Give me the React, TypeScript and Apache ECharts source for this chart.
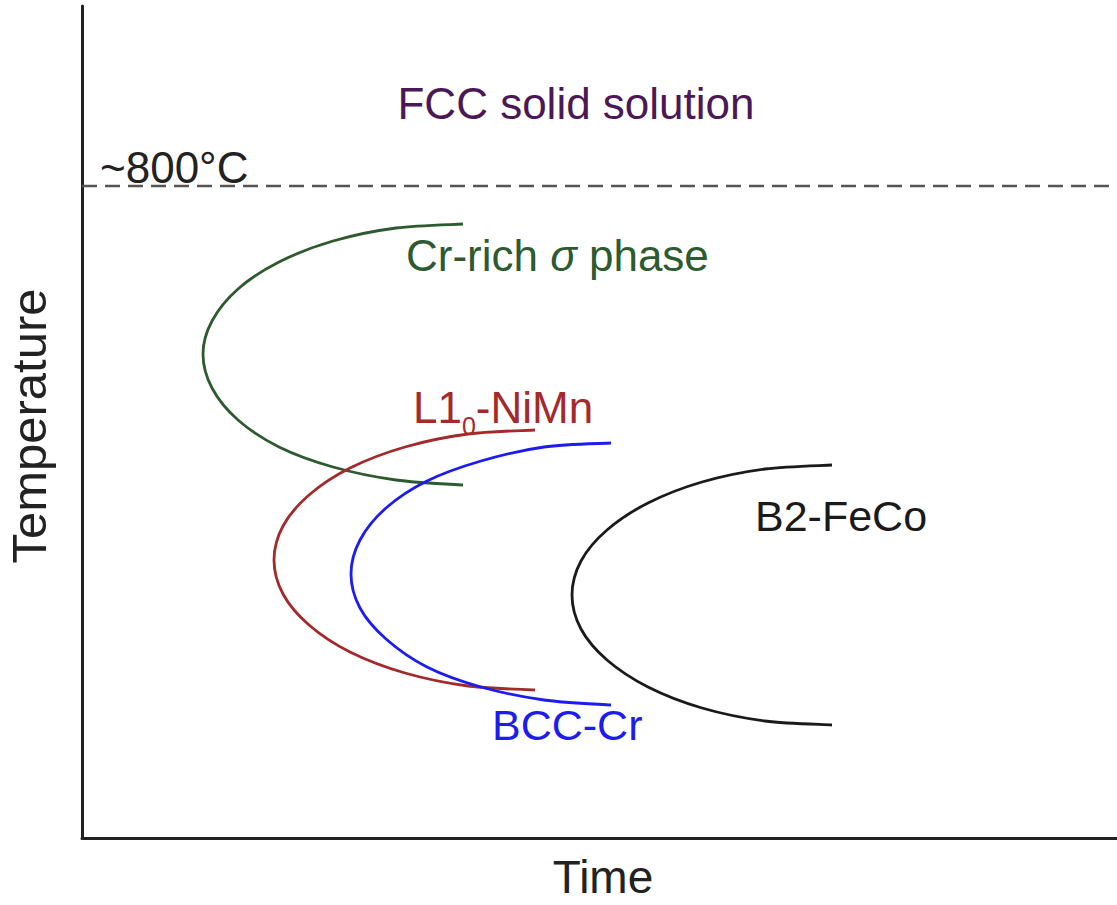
import React, { useEffect, useRef } from "react";
import * as echarts from "echarts";

// Schematic TTT diagram: time (x) vs temperature (y), arbitrary units.
const TIME_MAX = 103.5;
const TEMP_MAX = 83.2;
const SOLVUS_TEMP = 65.2; // ~800 °C dashed line

// C-curves, points read along each nose from top end to bottom end: [time, temperature]
const sigmaCurve: number[][] = [
  [38.1, 61.4], [31.4, 61.0], [25.1, 59.7], [19.7, 57.6], [15.6, 54.9], [13.0, 51.7],
  [12.1, 48.4], [13.0, 45.0], [15.6, 41.8], [19.7, 39.1], [25.1, 37.1], [31.4, 35.8], [38.1, 35.3],
];
const niMnCurve: number[][] = [
  [45.3, 40.8], [38.6, 40.4], [32.3, 39.1], [26.8, 37.0], [22.7, 34.3], [20.1, 31.2],
  [19.2, 27.8], [20.1, 24.4], [22.7, 21.3], [26.8, 18.6], [32.3, 16.5], [38.6, 15.2], [45.3, 14.8],
];
const bccCrCurve: number[][] = [
  [52.9, 39.5], [46.2, 39.1], [39.9, 37.7], [34.5, 35.7], [30.4, 33.0], [27.8, 29.8],
  [26.9, 26.4], [27.8, 23.0], [30.4, 19.9], [34.5, 17.1], [39.9, 15.1], [46.2, 13.8], [52.9, 13.3],
];
const feCoCurve: number[][] = [
  [75.0, 37.3], [68.3, 36.9], [62.0, 35.6], [56.6, 33.5], [52.5, 30.8], [49.9, 27.7],
  [49.0, 24.3], [49.9, 20.9], [52.5, 17.8], [56.6, 15.1], [62.0, 13.0], [68.3, 11.7], [75.0, 11.3],
];

const FONT = "'Liberation Sans', Arial, Helvetica, sans-serif";

const COLORS = {
  sigma: "#2d5a2f",
  niMn: "#a3292b",
  bcc: "#1c1cf2",
  feCo: "#1a1a1a",
  fcc: "#4a1856",
  axis: "#222222",
  dash: "#555555",
};

// Catmull-Rom spline through the projected points, written as cubic Bézier path data.
function splinePath(pts: number[][]): string {
  const n = pts.length;
  let d = `M${pts[0][0]},${pts[0][1]}`;
  for (let i = 0; i < n - 1; i++) {
    const p0 = pts[Math.max(i - 1, 0)];
    const p1 = pts[i];
    const p2 = pts[i + 1];
    const p3 = pts[Math.min(i + 2, n - 1)];
    const c1x = p1[0] + (p2[0] - p0[0]) / 6;
    const c1y = p1[1] + (p2[1] - p0[1]) / 6;
    const c2x = p2[0] - (p3[0] - p1[0]) / 6;
    const c2y = p2[1] - (p3[1] - p1[1]) / 6;
    d += ` C${c1x},${c1y} ${c2x},${c2y} ${p2[0]},${p2[1]}`;
  }
  return d;
}

function curveSeries(name: string, data: number[][], color: string) {
  return {
    name,
    type: "custom",
    coordinateSystem: "cartesian2d",
    data,
    silent: true,
    z: 3,
    clip: false,
    renderItem: (params: any, api: any) => {
      if (params.dataIndex !== 0) return null;
      const pts = data.map((p) => api.coord(p));
      return {
        type: "path",
        shape: { pathData: splinePath(pts) },
        style: { fill: "none", stroke: color, lineWidth: 2.8 },
      };
    },
  };
}

function label(text: string, x: number, y: number, fill: string, size = 44, align = "left", extra: any = {}) {
  return {
    type: "text",
    x,
    y,
    z: 10,
    ...extra,
    style: {
      text,
      fill,
      fontSize: size,
      fontFamily: FONT,
      align,
      verticalAlign: "middle",
      textAlign: align,
      textVerticalAlign: "middle",
    },
  };
}

export default function App() {
  const ref = useRef<HTMLDivElement>(null);

  useEffect(() => {
    if (!ref.current) return;
    const chart = echarts.init(ref.current, null, { renderer: "svg" });

    chart.setOption({
      animation: false,
      backgroundColor: "#ffffff",
      grid: { left: 82, top: 6, right: 0, bottom: 67, containLabel: false },
      xAxis: {
        type: "value",
        min: 0,
        max: TIME_MAX,
        axisLine: { show: true, lineStyle: { color: COLORS.axis, width: 3 } },
        axisTick: { show: false },
        axisLabel: { show: false },
        splitLine: { show: false },
      },
      yAxis: {
        type: "value",
        min: 0,
        max: TEMP_MAX,
        axisLine: { show: true, lineStyle: { color: COLORS.axis, width: 3 } },
        axisTick: { show: false },
        axisLabel: { show: false },
        splitLine: { show: false },
      },
      series: [
        {
          name: "~800°C",
          type: "line",
          data: [[0, SOLVUS_TEMP], [TIME_MAX, SOLVUS_TEMP]],
          symbol: "none",
          silent: true,
          lineStyle: { color: COLORS.dash, width: 2.5, type: [15, 8] },
          z: 2,
        },
        curveSeries("Cr-rich σ phase", sigmaCurve, COLORS.sigma),
        curveSeries("L10-NiMn", niMnCurve, COLORS.niMn),
        curveSeries("BCC-Cr", bccCrCurve, COLORS.bcc),
        curveSeries("B2-FeCo", feCoCurve, COLORS.feCo),
      ],
      graphic: [
        label("FCC solid solution", 576, 103, COLORS.fcc, 44, "center"),
        label("~800°C", 100, 167, "#222222", 44, "left"),
        {
          type: "text",
          x: 406,
          y: 255,
          z: 10,
          style: {
            text: "{n|Cr-rich }{i|σ}{n| phase}",
            align: "left",
            verticalAlign: "middle",
            textAlign: "left",
            textVerticalAlign: "middle",
            rich: {
              n: { fontSize: 44, fontFamily: FONT, fill: COLORS.sigma },
              i: { fontSize: 44, fontFamily: FONT, fontStyle: "italic", fill: COLORS.sigma },
            },
          },
        },
        {
          type: "text",
          x: 413,
          y: 407,
          z: 10,
          style: {
            text: "{n|L1}{s|0}{n|-NiMn}",
            align: "left",
            verticalAlign: "middle",
            textAlign: "left",
            textVerticalAlign: "middle",
            rich: {
              n: { fontSize: 44, fontFamily: FONT, fill: COLORS.niMn, lineHeight: 50 },
              s: {
                fontSize: 25,
                fontFamily: FONT,
                fill: COLORS.niMn,
                lineHeight: 12,
                height: 12,
                verticalAlign: "bottom",
              },
            },
          },
        },
        label("BCC-Cr", 492, 725, COLORS.bcc, 43, "left"),
        label("B2-FeCo", 755, 516, COLORS.feCo, 43, "left"),
        label("Temperature", 29, 426, "#222222", 49, "center", { rotation: Math.PI / 2 }),
        label("Time", 603, 877, "#222222", 46, "center"),
      ],
    });

    return () => chart.dispose();
  }, []);

  return (
    <div
      ref={ref}
      style={{ position: "absolute", left: 0, top: 0, width: 1117, height: 905, background: "#fff" }}
    />
  );
}
